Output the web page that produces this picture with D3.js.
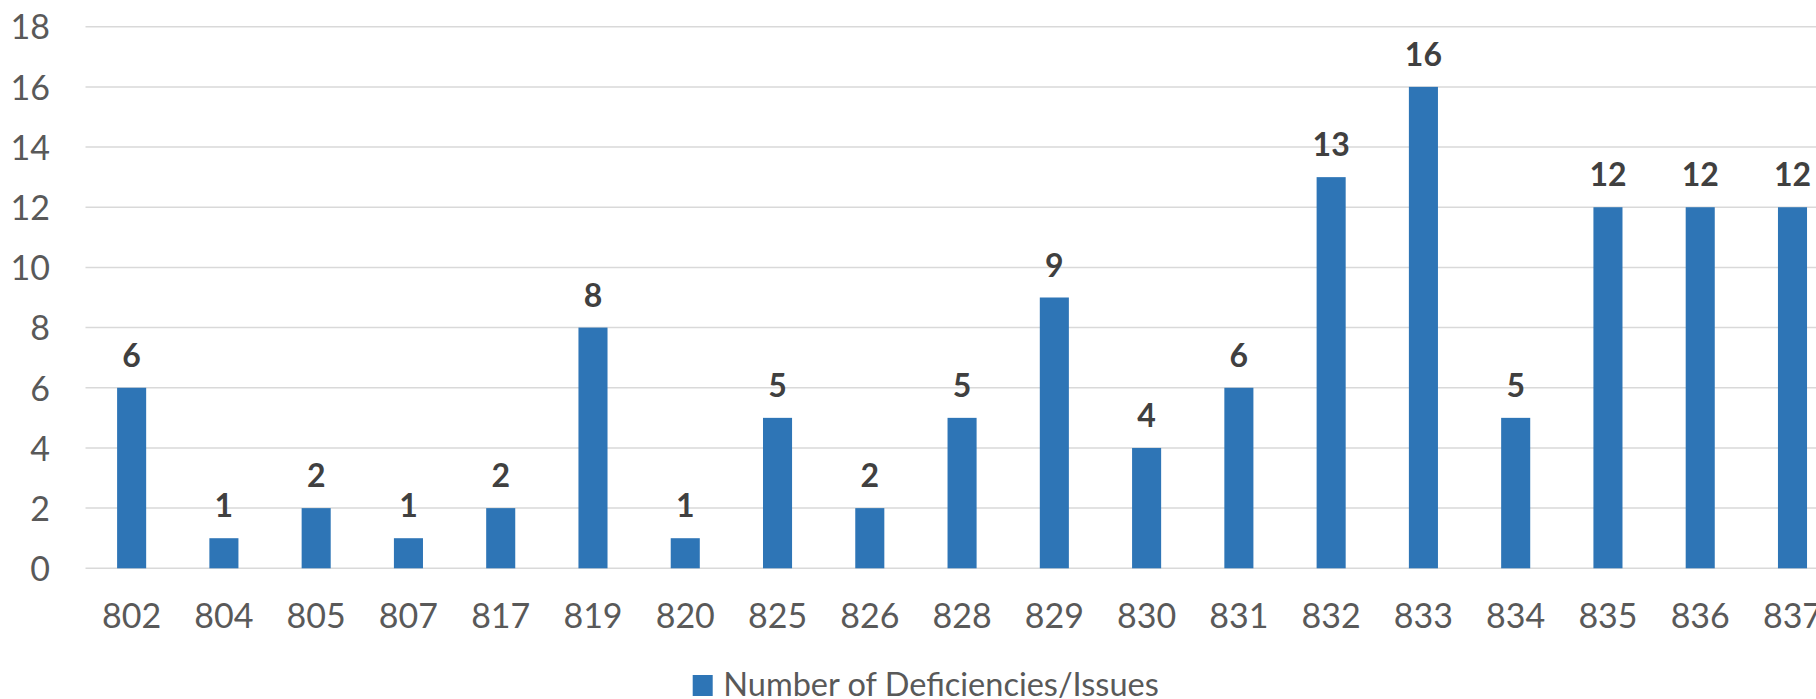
<!DOCTYPE html>
<html>
<head>
<meta charset="utf-8">
<script src="https://cdn.jsdelivr.net/npm/d3@7/dist/d3.min.js"></script>
<style>
  html, body { margin: 0; padding: 0; background: #fff; overflow: hidden; }
  svg { display: block; }
</style>
</head>
<body>
<svg id="chart" width="1816" height="699"></svg>
<script>
// Deficiency counts per unit
const categories = ["802","804","805","807","817","819","820","825","826","828","829","830","831","832","833","834","835","836","837"];
const deficiencies = [6,1,2,1,2,8,1,5,2,5,9,4,6,13,16,5,12,12,12];
const yTicks = [0,2,4,6,8,10,12,14,16,18];
const seriesName = "Number of Deficiencies/Issues";

const W = 1816, H = 699;
const FONT = "Lato, 'Open Sans', sans-serif";
const BLUE = "#2E75B6";

const svg = d3.select("#chart");

// Plot area: the category axis runs slightly past the right edge of the page
const plot = { left: 85.5, top: 26.7, bottom: 568.3, step: 92.27 };
const x = d3.scaleBand()
  .domain(categories)
  .range([plot.left, plot.left + plot.step * categories.length])
  .paddingInner(0.685)
  .paddingOuter(0.3425);
const y = d3.scaleLinear().domain([0, 18]).range([plot.bottom, plot.top]);

// Horizontal gridlines
svg.append("g")
  .selectAll("line")
  .data(yTicks)
  .join("line")
  .attr("x1", plot.left)
  .attr("x2", W)
  .attr("y1", d => y(d))
  .attr("y2", d => y(d))
  .attr("stroke", "#D9D9D9")
  .attr("stroke-width", 1.5);

// Y axis labels
const yAxis = d3.axisLeft(y).tickValues(yTicks).tickSize(0).tickPadding(0);
svg.append("g")
  .attr("transform", "translate(50,0)")
  .call(yAxis)
  .call(g => g.select(".domain").remove())
  .call(g => g.selectAll("text")
    .attr("font-family", FONT)
    .attr("font-size", 34)
    .attr("fill", "#595959")
    .attr("dy", "0.36em"));

// X axis labels
const xAxis = d3.axisBottom(x).tickSize(0).tickPadding(0);
svg.append("g")
  .attr("transform", `translate(0,${plot.bottom})`)
  .call(xAxis)
  .call(g => g.select(".domain").remove())
  .call(g => g.selectAll("text")
    .attr("font-family", FONT)
    .attr("font-size", 34)
    .attr("fill", "#595959")
    .attr("y", 60)
    .attr("dy", 0));

// Bars
svg.append("g")
  .selectAll("rect")
  .data(deficiencies)
  .join("rect")
  .attr("x", (d, i) => x(categories[i]))
  .attr("width", x.bandwidth())
  .attr("y", d => y(d))
  .attr("height", d => y(0) - y(d))
  .attr("fill", BLUE);

// Value labels
svg.append("g")
  .selectAll("text")
  .data(deficiencies)
  .join("text")
  .attr("x", (d, i) => x(categories[i]) + x.bandwidth() / 2)
  .attr("y", d => y(d) - 21)
  .attr("text-anchor", "middle")
  .attr("font-family", FONT)
  .attr("font-weight", "bold")
  .attr("font-size", 32)
  .attr("fill", "#404040")
  .text(d => d);

// Legend
const legend = svg.append("g").attr("transform", "translate(692.7,675)");
legend.append("rect")
  .attr("width", 20)
  .attr("height", 21)
  .attr("fill", BLUE);
legend.append("text")
  .attr("x", 30.6)
  .attr("y", 21)
  .attr("font-family", FONT)
  .attr("font-size", 32.5)
  .attr("fill", "#595959")
  .text(seriesName);
</script>
</body>
</html>
